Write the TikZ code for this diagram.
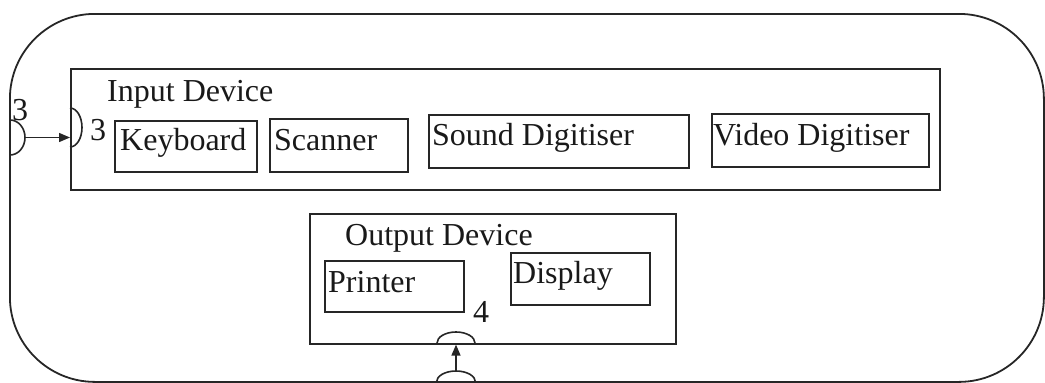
\documentclass[tikz,border=0pt]{standalone}
\usepackage{fontspec}
\setmainfont{Liberation Serif}
\usetikzlibrary{arrows.meta}
\begin{document}
\begin{tikzpicture}[x=1pt,y=-1pt,
  every node/.style={font=\fontsize{32}{36}\selectfont, text=black!90},
  frame/.style={draw=black!85, line width=1.6pt, inner sep=0pt, anchor=north west},
  lbl/.style={inner sep=0pt, anchor=base west},
  capline/.style={draw=black!85, line width=1.6pt},
  arr/.style={draw=black!85, line width=1.4pt, -{Triangle[length=11pt,width=9pt]}}]
\useasboundingbox (0,0) rectangle (1045,383);
% outer rounded frame
\node[frame, line width=1.8pt, rounded corners=85pt, minimum width=1034pt, minimum height=368pt] (outer) at (9,13) {};
% input device
\node[frame, minimum width=869pt, minimum height=121pt] (input) at (70,68) {};
\node[lbl] (inputlbl) at (107,101) {Input Device};
\node[frame, minimum width=142pt, minimum height=51pt] (kbd) at (114,120) {};
\node[lbl] (kbdlbl) at (120,150) {Keyboard};
\node[frame, minimum width=138pt, minimum height=53pt] (scan) at (269,118) {};
\node[lbl] (scanlbl) at (274,150) {Scanner};
\node[frame, minimum width=260pt, minimum height=53pt] (sound) at (428,114) {};
\node[lbl] (soundlbl) at (432,145) {Sound Digitiser};
\node[frame, minimum width=217pt, minimum height=53pt] (video) at (711,113) {};
\node[lbl] (videolbl) at (713,145) {Video Digitiser};
% output device
\node[frame, minimum width=366pt, minimum height=130pt] (output) at (309,213) {};
\node[lbl] (outputlbl) at (345,245) {Output Device};
\node[frame, minimum width=139pt, minimum height=51pt] (printer) at (324,260) {};
\node[lbl] (printerlbl) at (328,292) {Printer};
\node[frame, minimum width=139pt, minimum height=52pt] (display) at (510,252) {};
\node[lbl] (displaylbl) at (513,283) {Display};
% labels
\node[lbl] (four) at (473,322) {4};
\node[lbl] (threein) at (90,140) {3};
\node[lbl] (threeout) at (12,120) {3};
% caps
\draw[capline] (10,120) arc[start angle=90, end angle=-90, x radius=15pt, y radius=17.5pt];
\draw[capline] (70,108) arc[start angle=90, end angle=-90, x radius=12pt, y radius=19.5pt];
\draw[capline] (437,343) arc[start angle=180, end angle=0, x radius=19pt, y radius=11pt];
\draw[capline] (436.5,382) arc[start angle=180, end angle=0, x radius=19.5pt, y radius=11pt];
\coordinate (lbulge) at (25,137.5);
\coordinate (lowtop) at (456,371);
% connectors
\draw[arr] (lbulge) -- (lbulge -| input.west);
\draw[arr] (lowtop) -- (lowtop |- output.south);
\end{tikzpicture}
\end{document}
